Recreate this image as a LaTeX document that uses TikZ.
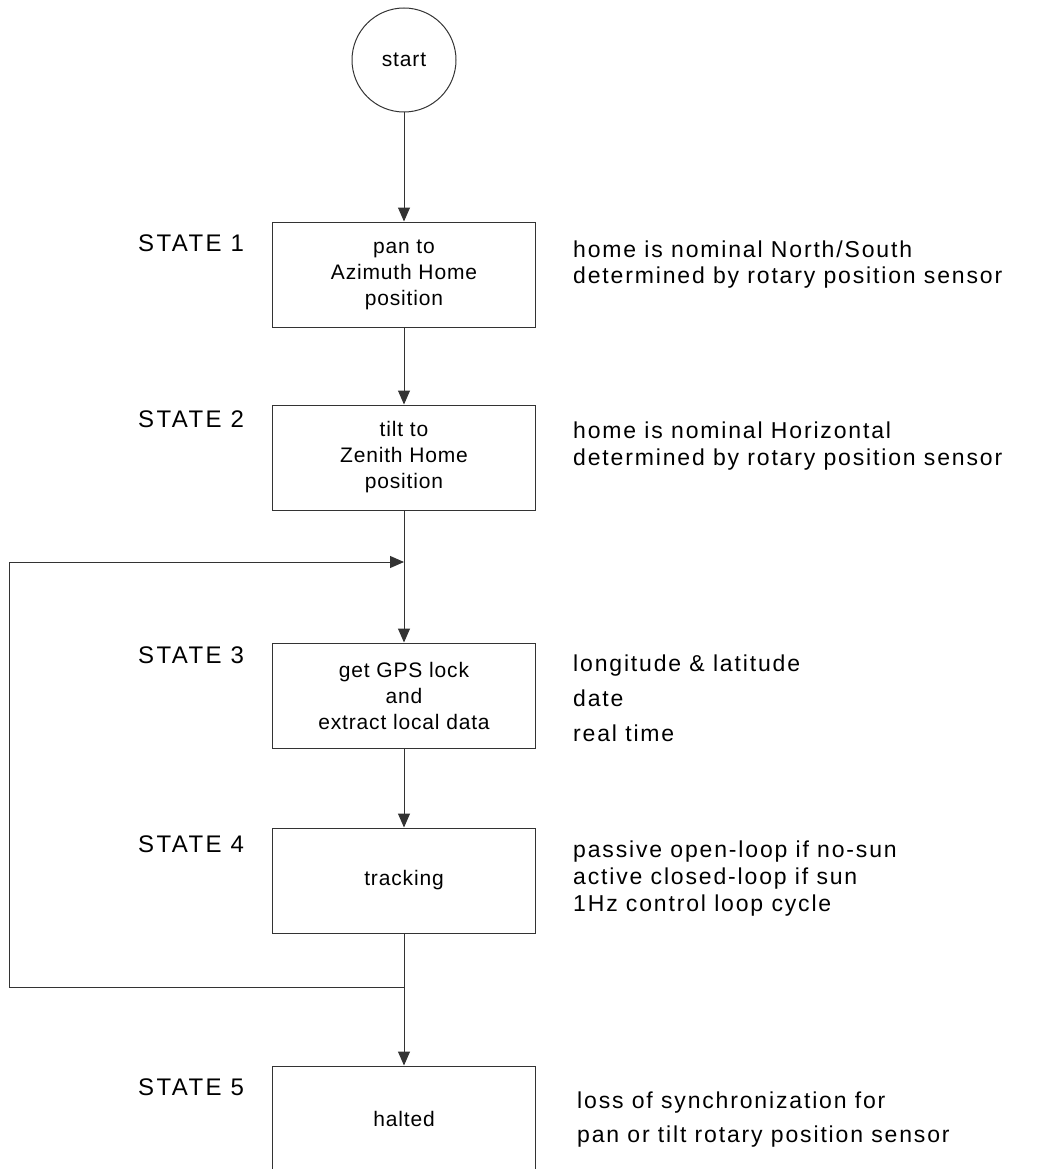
\documentclass[tikz,border=0pt]{standalone}
\usepackage{fontspec}
\setmainfont{Liberation Sans}
\newfontfamily\boxfont[LetterSpace=4]{Liberation Sans}
\newfontfamily\notefont[LetterSpace=8]{Liberation Sans}
\newfontfamily\labelfont[LetterSpace=10]{Liberation Sans}
\usetikzlibrary{arrows.meta}
\begin{document}
\begin{tikzpicture}[x=1pt,y=-1pt,
  linecol/.style={draw=black!80, line width=1pt},
  statebox/.style={linecol, rectangle, minimum width=263pt, minimum height=105pt, inner sep=0pt, align=center, font=\boxfont\fontsize{21}{26}\selectfont},
  startnode/.style={linecol, circle, minimum size=104pt, inner sep=0pt, font=\boxfont\fontsize{21}{26}\selectfont},
  statelabel/.style={anchor=base west, inner sep=0pt, font=\labelfont\fontsize{24}{28}\selectfont},
  note/.style={anchor=base west, inner sep=0pt, align=left},
  arr/.style={linecol, -{Triangle[length=14pt,width=12pt]}}
]
\useasboundingbox (0,0) rectangle (1037,1169);
\clip (0,0) rectangle (1037,1169);

\node[startnode] (start) at (404,60) {start};
\node[statebox] (b1) at (404,274.5) {pan to\\Azimuth Home\\position};
\node[statebox] (b2) at (404,457.5) {tilt to\\Zenith Home\\position};
\node[statebox] (b3) at (404,695.5) {get GPS lock\\and\\extract local data};
\node[statebox] (b4) at (404,880.5) {tracking};
\node[statebox] (b5) at (404,1118.5) {halted};

\node[statelabel] (s1) at (138,251) {STATE 1};
\node[statelabel] (s2) at (138,427) {STATE 2};
\node[statelabel] (s3) at (138,663) {STATE 3};
\node[statelabel] (s4) at (138,852) {STATE 4};
\node[statelabel] (s5) at (138,1095) {STATE 5};

\node[note, font=\notefont\fontsize{23}{26}\selectfont] (n1) at (573,283)
  {home is nominal North/South\\determined by rotary position sensor};
\node[note, font=\notefont\fontsize{23}{27}\selectfont] (n2) at (573,465)
  {home is nominal Horizontal\\determined by rotary position sensor};
\node[note, font=\notefont\fontsize{23}{35}\selectfont] (n3) at (573,741)
  {longitude \& latitude\\date\\real time};
\node[note, font=\notefont\fontsize{23}{27}\selectfont] (n4) at (573,911)
  {passive open-loop if no-sun\\active closed-loop if sun\\1Hz control loop cycle};
\node[note, font=\notefont\fontsize{23}{34}\selectfont] (n5) at (577,1142)
  {loss of synchronization for\\pan or tilt rotary position sensor};

\coordinate (jtop) at (404,562);
\coordinate (jbot) at (404,987);
\coordinate (ltop) at (9,562);
\coordinate (lbot) at (9,987);

\draw[arr] (start) -- (b1);
\draw[arr] (b1) -- (b2);
\draw[arr] (b2) -- (b3);
\draw[arr] (b3) -- (b4);
\draw[arr] (b4) -- (b5);
\draw[arr] (jbot) -- (lbot) -- (ltop) -- (jtop);
\end{tikzpicture}
\end{document}
